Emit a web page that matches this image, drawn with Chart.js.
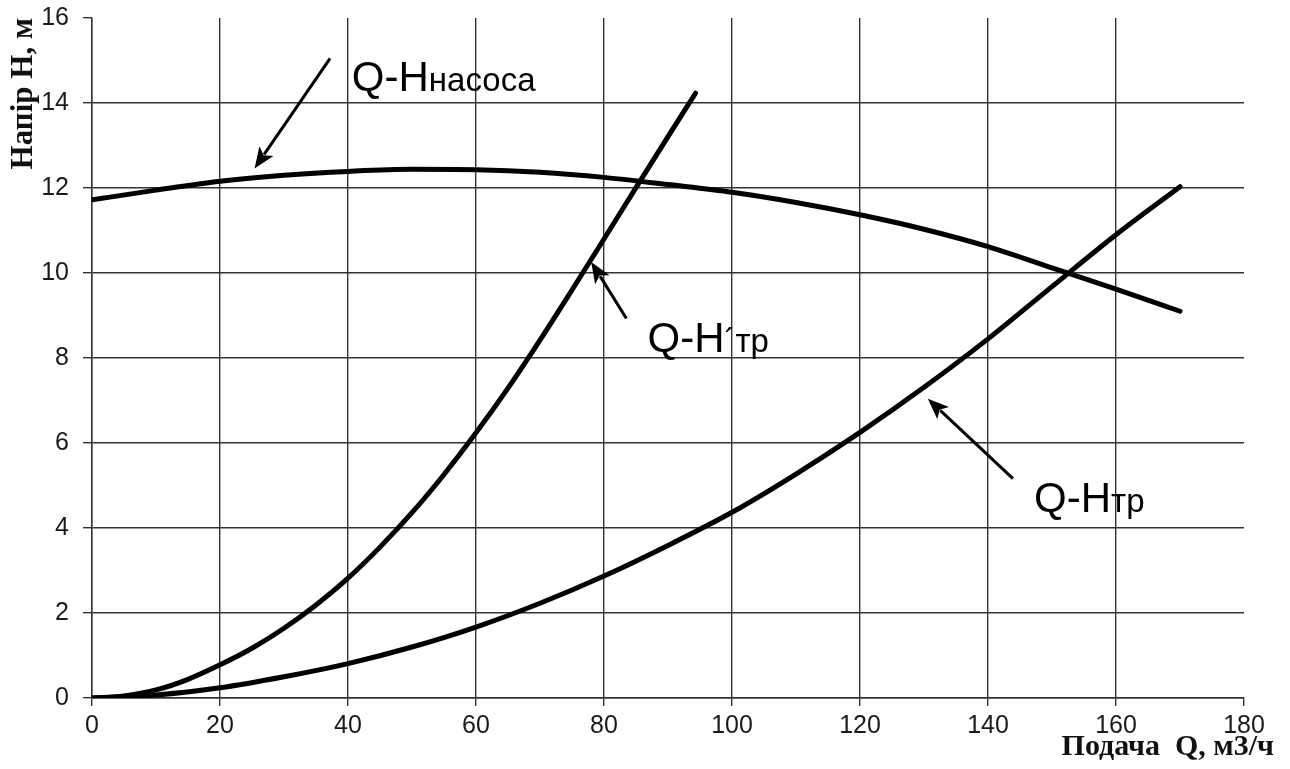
<!DOCTYPE html>
<html>
<head>
<meta charset="utf-8">
<script src="https://cdn.jsdelivr.net/npm/chart.js@4/dist/chart.umd.min.js"></script>
<style>
  html, body { margin: 0; padding: 0; background: #ffffff; }
  #wrap { width: 1290px; height: 769px; position: relative; }
</style>
</head>
<body>
<div id="wrap"><canvas id="chart" width="1290" height="769"></canvas></div>
<script>
// Подача Q, м3/ч
const qMain = [0, 10, 20, 30, 40, 50, 60, 70, 80, 90, 100, 110, 120, 130, 140, 150, 160, 170];
// Напор насоса, м
const hPump = [11.72, 11.95, 12.16, 12.30, 12.39, 12.44, 12.43, 12.37, 12.25, 12.08, 11.90, 11.66, 11.37, 11.03, 10.62, 10.12, 9.62, 9.10];
// Характеристика трубопровода Q-Hтр, м
const hPipe = [0, 0.07, 0.24, 0.50, 0.81, 1.20, 1.67, 2.23, 2.87, 3.59, 4.37, 5.27, 6.25, 7.31, 8.45, 9.68, 10.90, 12.03];
// Характеристика трубопровода Q-H'тр
const qPipe2 = [0, 5, 10, 15, 20, 25, 30, 35, 40, 45, 50, 55, 60, 65, 70, 75, 80, 85, 90, 94.3];
const hPipe2 = [0, 0.05, 0.19, 0.44, 0.78, 1.17, 1.64, 2.19, 2.82, 3.55, 4.36, 5.26, 6.24, 7.29, 8.42, 9.60, 10.80, 12.01, 13.21, 14.23];

const qTicks = [0, 20, 40, 60, 80, 100, 120, 140, 160, 180];
const hTicks = [0, 2, 4, 6, 8, 10, 12, 14, 16];

// Curve captions: main text, subscript, arrow tail and arrow tip (in axis units)
const captionNames = ['Q-H', 'Q-H', 'Q-H'];
const captionSubs = ['насоса', '´тр', 'тр'];
const captionAt = [[40.6, 14.28], [86.8, 8.14], [147.2, 4.38]];
const arrowFrom = [[37.2, 15.05], [83.5, 8.93], [143.9, 5.16]];
const arrowTo = [[25.4, 12.46], [78.0, 10.26], [130.6, 7.04]];

const xTitle = 'Подача  Q, м3/ч';
const yTitle = 'Напір Н, м';

const toPoints = (xs, ys) => xs.map((x, i) => ({ x: x, y: ys[i] }));

const gridColor = '#333333';
const lineStyle = {
  borderColor: '#000000',
  borderWidth: 5,
  pointRadius: 0,
  pointHoverRadius: 0,
  fill: false,
  cubicInterpolationMode: 'monotone',
  borderCapStyle: 'round',
  borderJoinStyle: 'round'
};

const annotations = {
  id: 'annotations',
  afterDatasetsDraw(chart) {
    const { ctx, scales } = chart;
    const xs = scales.x, ys = scales.y;
    ctx.save();
    // arrows
    ctx.strokeStyle = '#000';
    ctx.fillStyle = '#000';
    ctx.lineWidth = 3;
    for (let i = 0; i < arrowFrom.length; i++) {
      const x1 = xs.getPixelForValue(arrowFrom[i][0]);
      const y1 = ys.getPixelForValue(arrowFrom[i][1]);
      const x2 = xs.getPixelForValue(arrowTo[i][0]);
      const y2 = ys.getPixelForValue(arrowTo[i][1]);
      const ang = Math.atan2(y2 - y1, x2 - x1);
      const headLen = 21, headHalf = 8.5;
      const bx = x2 - headLen * Math.cos(ang);
      const by = y2 - headLen * Math.sin(ang);
      ctx.beginPath();
      ctx.moveTo(x1, y1);
      ctx.lineTo(bx + 4 * Math.cos(ang), by + 4 * Math.sin(ang));
      ctx.stroke();
      ctx.beginPath();
      ctx.moveTo(x2, y2);
      ctx.lineTo(bx + headHalf * Math.sin(ang), by - headHalf * Math.cos(ang));
      ctx.lineTo(bx + 5 * Math.cos(ang), by + 5 * Math.sin(ang));
      ctx.lineTo(bx - headHalf * Math.sin(ang), by + headHalf * Math.cos(ang));
      ctx.closePath();
      ctx.fill();
    }
    // captions
    ctx.textBaseline = 'alphabetic';
    ctx.textAlign = 'left';
    for (let i = 0; i < captionNames.length; i++) {
      const x = xs.getPixelForValue(captionAt[i][0]);
      const y = ys.getPixelForValue(captionAt[i][1]);
      ctx.font = '42px "Liberation Sans", Arial, sans-serif';
      ctx.fillText(captionNames[i], x, y);
      const w = ctx.measureText(captionNames[i]).width;
      ctx.font = '33px "Liberation Sans", Arial, sans-serif';
      ctx.fillText(captionSubs[i], x + w, y);
    }
    ctx.restore();
  },
  afterDraw(chart) {
    const { ctx } = chart;
    ctx.save();
    ctx.font = 'bold 30px "Liberation Serif", "Times New Roman", serif';
    ctx.fillStyle = '#111';
    ctx.textAlign = 'right';
    ctx.textBaseline = 'alphabetic';
    ctx.fillText(xTitle, 1274, 755);
    ctx.restore();
  }
};

new Chart(document.getElementById('chart'), {
  type: 'line',
  data: {
    datasets: [
      Object.assign({ label: 'Q-Hнасоса', data: toPoints(qMain, hPump) }, lineStyle),
      Object.assign({ label: 'Q-H\u00B4тр', data: toPoints(qPipe2, hPipe2) }, lineStyle),
      Object.assign({ label: 'Q-Hтр', data: toPoints(qMain, hPipe) }, lineStyle)
    ]
  },
  options: {
    responsive: false,
    animation: false,
    events: [],
    layout: { padding: { top: 18, right: 46, bottom: 0, left: 0 } },
    plugins: {
      legend: { display: false },
      tooltip: { enabled: false }
    },
    scales: {
      x: {
        type: 'linear',
        min: 0,
        max: 180,
        afterBuildTicks: s => { s.ticks = qTicks.map(v => ({ value: v })); },
        afterFit: s => { s.height = 71; s.paddingLeft = 0; s.paddingRight = 0; },
        grid: {
          color: c => (c.tick && c.tick.value === 180 ? 'rgba(0,0,0,0)' : gridColor),
          tickColor: gridColor,
          lineWidth: 1.4,
          tickLength: 8
        },
        border: { display: true, color: gridColor, width: 1.4 },
        ticks: {
          color: '#1a1a1a',
          padding: 5,
          maxRotation: 0,
          font: { family: '"Liberation Sans", Arial, sans-serif', size: 25 }
        }
      },
      y: {
        type: 'linear',
        min: 0,
        max: 16,
        afterBuildTicks: s => { s.ticks = hTicks.map(v => ({ value: v })); },
        afterFit: s => { s.width = 92; s.paddingTop = 0; s.paddingBottom = 0; },
        grid: {
          color: c => (c.tick && c.tick.value === 16 ? 'rgba(0,0,0,0)' : gridColor),
          tickColor: gridColor,
          lineWidth: 1.4,
          tickLength: 9
        },
        border: { display: true, color: gridColor, width: 1.4 },
        ticks: {
          color: '#1a1a1a',
          padding: 14,
          font: { family: '"Liberation Sans", Arial, sans-serif', size: 25 }
        },
        title: {
          display: true,
          text: yTitle,
          align: 'end',
          color: '#111',
          padding: { top: 5, bottom: 0 },
          font: { family: '"Liberation Serif", "Times New Roman", serif', size: 31, weight: 'bold' }
        }
      }
    }
  },
  plugins: [annotations]
});
</script>
</body>
</html>
